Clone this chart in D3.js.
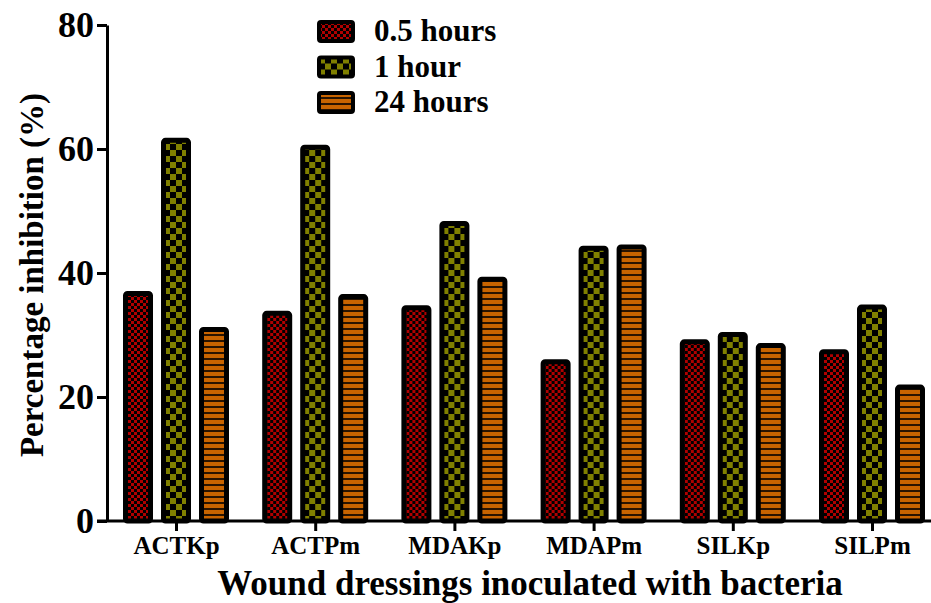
<!DOCTYPE html>
<html>
<head>
<meta charset="utf-8">
<script src="https://cdn.jsdelivr.net/npm/d3@7"></script>
<style>
  body { margin: 0; background: #fff; }
  text { font-family: "Liberation Serif", "Times New Roman", serif; font-weight: bold; }
</style>
</head>
<body>
<svg id="chart"></svg>
<script>
// data
const groups = ["ACTKp", "ACTPm", "MDAKp", "MDAPm", "SILKp", "SILPm"];
const seriesNames = ["0.5 hours", "1 hour", "24 hours"];
const halfHour = [37.1, 33.9, 34.8, 26.1, 29.3, 27.7];
const oneHour = [61.8, 60.7, 48.4, 44.4, 30.5, 34.9];
const dayLong = [31.3, 36.6, 39.4, 44.6, 28.7, 22.0];
const yTicks = [0, 20, 40, 60, 80];

const width = 931, height = 603;
const margin = { top: 25, right: 0, bottom: 82, left: 107 };

const svg = d3.select("#chart").attr("width", width).attr("height", height);

// patterns
const defs = svg.append("defs");
const pRed = defs.append("pattern").attr("id", "pRed")
  .attr("patternUnits", "userSpaceOnUse").attr("width", 6).attr("height", 6);
pRed.append("rect").attr("width", 6).attr("height", 6).attr("fill", "#000");
pRed.append("rect").attr("width", 3).attr("height", 3).attr("fill", "#b00000");
pRed.append("rect").attr("x", 3).attr("y", 3).attr("width", 3).attr("height", 3).attr("fill", "#b00000");

const pGreen = defs.append("pattern").attr("id", "pGreen")
  .attr("patternUnits", "userSpaceOnUse").attr("width", 12).attr("height", 12);
pGreen.append("rect").attr("width", 12).attr("height", 12).attr("fill", "#000");
pGreen.append("rect").attr("width", 6).attr("height", 6).attr("fill", "#808000");
pGreen.append("rect").attr("x", 6).attr("y", 6).attr("width", 6).attr("height", 6).attr("fill", "#808000");

const pOrange = defs.append("pattern").attr("id", "pOrange")
  .attr("patternUnits", "userSpaceOnUse").attr("width", 6).attr("height", 6);
pOrange.append("rect").attr("width", 6).attr("height", 6).attr("fill", "#2a1400");
pOrange.append("rect").attr("width", 6).attr("height", 4).attr("fill", "#c86400");

const fills = ["url(#pRed)", "url(#pGreen)", "url(#pOrange)"];

const y = d3.scaleLinear().domain([0, 80]).range([521, margin.top]);
const x = d3.scalePoint().domain(groups).range([176, 872]);
const sub = d3.scalePoint().domain(seriesNames).range([-38, 38]);

const data = groups.map((g, i) => ({
  group: g,
  values: [halfHour[i], oneHour[i], dayLong[i]].map((v, j) => ({ name: seriesNames[j], value: v, k: j }))
}));

// bars
const barW = 25, sw = 5;
svg.append("g").selectAll("g")
  .data(data)
  .join("g")
  .attr("transform", d => `translate(${x(d.group)},0)`)
  .selectAll("rect")
  .data(d => d.values)
  .join("rect")
  .attr("x", d => sub(d.name) - barW / 2)
  .attr("y", d => y(d.value) + sw / 2)
  .attr("width", barW)
  .attr("height", d => y(0) - y(d.value) - sw / 2)
  .attr("rx", 2)
  .attr("fill", d => fills[d.k])
  .attr("stroke", "#000")
  .attr("stroke-width", sw);

// y axis
const yAxis = svg.append("g")
  .attr("transform", `translate(${margin.left},0)`)
  .call(d3.axisLeft(y).tickValues(yTicks).tickSize(10).tickSizeOuter(0).tickPadding(3));
yAxis.select(".domain").attr("stroke-width", 3);
yAxis.selectAll(".tick line").attr("stroke-width", 3);
yAxis.selectAll(".tick text").attr("font-size", 36).attr("fill", "#000")
  .attr("font-family", "Liberation Serif").attr("font-weight", "bold");

// x axis
const xAxis = svg.append("g")
  .attr("transform", `translate(0,${y(0)})`)
  .call(d3.axisBottom(x).tickSize(10).tickSizeOuter(0).tickPadding(5));
xAxis.select(".domain").attr("d", `M${margin.left - 10},0H${width}`).attr("stroke-width", 3);
xAxis.selectAll(".tick line").attr("stroke-width", 3);
xAxis.selectAll(".tick text").attr("font-size", 25).attr("fill", "#000")
  .attr("font-family", "Liberation Serif").attr("font-weight", "bold");

// titles
svg.append("text")
  .attr("transform", `translate(43,${275}) rotate(-90)`)
  .attr("text-anchor", "middle")
  .attr("font-size", 33)
  .text("Percentage inhibition (%)");

svg.append("text")
  .attr("x", 530).attr("y", 595)
  .attr("text-anchor", "middle")
  .attr("font-size", 35)
  .text("Wound dressings inoculated with bacteria");

// legend
const legend = svg.append("g").attr("transform", "translate(319,22)");
const li = legend.selectAll("g").data(seriesNames).join("g")
  .attr("transform", (d, i) => `translate(0,${i * 35.5})`);
li.append("rect")
  .attr("width", 34).attr("height", 19).attr("rx", 2)
  .attr("fill", (d, i) => fills[i])
  .attr("stroke", "#000").attr("stroke-width", 4);
li.append("text")
  .attr("x", 55).attr("y", 19)
  .attr("font-size", 31)
  .text(d => d);
</script>
</body>
</html>
